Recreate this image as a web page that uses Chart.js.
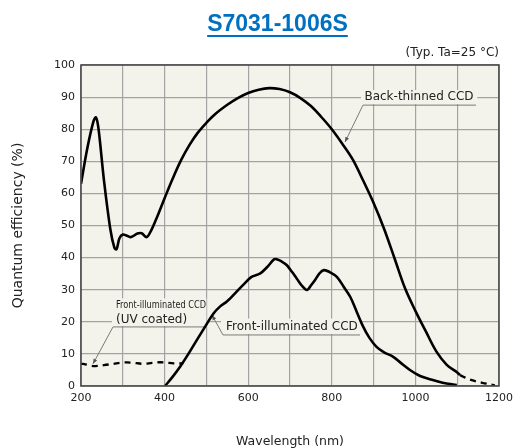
<!DOCTYPE html>
<html>
<head>
<meta charset="utf-8">
<script src="https://cdn.jsdelivr.net/npm/chart.js@4.4.1/dist/chart.umd.min.js"></script>
<style>
  html, body { margin: 0; padding: 0; background: #ffffff; }
  #wrap { position: relative; width: 516px; height: 448px; }
  #title {
    position: absolute; left: 0; top: 12px; width: 555px; text-align: center;
    font-family: "Liberation Sans", Arial, sans-serif; font-weight: bold; font-size: 23px;
    line-height: 23px; color: #0070C0; text-decoration: underline;
    text-decoration-thickness: 2px; text-underline-offset: 4px;
  }
  canvas { position: absolute; left: 0; top: 0; }
</style>
</head>
<body>
<div id="wrap">
  <canvas id="c" width="516" height="448"></canvas>
  <div id="title">S7031-1006S</div>
</div>
<script>
// ---- Data (wavelength nm, quantum efficiency %) ----
const btWavelengths = [200,215,230,236,242,255,270,280,285,292,300,310,320,335,345,357,368,380,400,420,440,460,480,500,520,550,575,600,625,650,675,700,725,750,775,800,825,850,875,900,925,950,975,1000,1025,1050,1075,1100,1107];
const btValues      = [63,74,82.5,83.7,80,64,49,43,42.6,46,47.2,46.8,46.4,47.5,47.6,46.4,48.5,52,58.5,64.8,70.5,75.2,79,82,84.6,87.6,89.7,91.3,92.3,92.8,92.5,91.5,89.7,87.2,83.8,80,75.5,70.6,64,57,49,39.8,30.5,23.4,17,10.8,6.6,4.2,3.4];

const btExtWavelengths = [1107,1130,1160,1190];
const btExtValues      = [3.4,2.0,1.0,0.2];

const fiWavelengths = [401,420,437,457,477,497,517,533,549,568,588,608,628,645,662,668,680,692,705,716,730,741,750,760,770,781,795,812,828,844,860,875,890,907,925,947,965,987,1010,1035,1065,1099];
const fiValues      = [0,3,6,10,14.3,18.5,22.6,24.8,26.3,28.8,31.5,34,35,37,39.5,39.5,38.8,37.7,35.5,33.5,31,29.9,31.3,33,35,36.1,35.5,34,31,27.8,23,18.5,15,12.2,10.5,9.1,7.2,5,3.2,2.1,1,0.3];

const uvWavelengths = [200,215,233,255,277,300,320,349,370,389,410,430,445];
const uvValues      = [7.0,6.6,6.2,6.5,6.9,7.3,7.3,6.9,7.2,7.4,7.2,7.0,7.1];

const xTickLabels = [200,400,600,800,1000,1200];
const yTickLabels = [0,10,20,30,40,50,60,70,80,90,100];

const toPoints = (xs, ys) => xs.map((x, i) => ({x: x, y: ys[i]}));

const PLOT_BG = '#f4f3eb';
const FONT = '"DejaVu Sans", Verdana, sans-serif';

const bgPlugin = {
  id: 'bg',
  beforeDraw(chart) {
    const a = chart.chartArea, ctx = chart.ctx;
    ctx.save();
    ctx.fillStyle = PLOT_BG;
    ctx.fillRect(a.left, a.top, a.right - a.left, a.bottom - a.top);
    ctx.restore();
  }
};

function arrowLine(ctx, x1, y1, x2, y2) {
  ctx.beginPath();
  ctx.moveTo(x1, y1);
  ctx.lineTo(x2, y2);
  ctx.stroke();
  const ang = Math.atan2(y2 - y1, x2 - x1);
  const L = 5, W = 2;
  ctx.beginPath();
  ctx.moveTo(x2, y2);
  ctx.lineTo(x2 - L * Math.cos(ang) + W * Math.sin(ang), y2 - L * Math.sin(ang) - W * Math.cos(ang));
  ctx.lineTo(x2 - L * Math.cos(ang) - W * Math.sin(ang), y2 - L * Math.sin(ang) + W * Math.cos(ang));
  ctx.closePath();
  ctx.fill();
}

const annotPlugin = {
  id: 'annot',
  beforeDatasetsDraw(chart) {
    const ctx = chart.ctx, xs = chart.scales.x, ys = chart.scales.y;
    const X = v => xs.getPixelForValue(v), Y = v => ys.getPixelForValue(v);
    ctx.save();
    ctx.textBaseline = 'middle';
    ctx.fillStyle = PLOT_BG;
    // text background boxes
    ctx.fillRect(X(870), Y(92.2), X(1148) - X(870), Y(87.8) - Y(92.2));
    ctx.fillRect(X(535), Y(21.0), X(870) - X(535), Y(16.2) - Y(21.0));
    ctx.fillRect(X(274), Y(27.3), X(500) - X(274), Y(18.7) - Y(27.3));

    // leaders and underlines
    ctx.strokeStyle = '#7a7a7a';
    ctx.fillStyle = '#555555';
    ctx.lineWidth = 1;
    ctx.beginPath();
    ctx.moveTo(X(874.6), Y(87.5)); ctx.lineTo(X(1145), Y(87.5));
    ctx.moveTo(X(539.7), Y(15.9)); ctx.lineTo(X(867.5), Y(15.9));
    ctx.moveTo(X(276.6), Y(18.4)); ctx.lineTo(X(496.7), Y(18.4));
    ctx.stroke();
    arrowLine(ctx, X(874.6), Y(87.5), X(831.6), Y(76.0));
    arrowLine(ctx, X(539.7), Y(15.9), X(513.4), Y(22.1));
    arrowLine(ctx, X(276.6), Y(18.4), X(228.7), Y(6.9));

    // texts
    ctx.fillStyle = '#222222';
    ctx.font = '12px ' + FONT;
    ctx.textAlign = 'center';
    ctx.fillText('Back-thinned CCD', X(1008.6), Y(90.0));
    ctx.textAlign = 'left';
    ctx.fillText('Front-illuminated CCD', X(546.9), Y(18.4));
    ctx.fillText('(UV coated)', X(283.7), Y(20.6));
    // small condensed label
    ctx.save();
    ctx.font = '11px ' + FONT;
    ctx.translate(X(283.7), Y(25.2));
    ctx.scale(0.745, 1);
    ctx.fillText('Front-illuminated CCD', 0, 0);
    ctx.restore();
    ctx.restore();
  },
  afterDraw(chart) {
    const ctx = chart.ctx, a = chart.chartArea;
    ctx.save();
    ctx.strokeStyle = '#4a4a4a';
    ctx.lineWidth = 1.6;
    ctx.strokeRect(a.left, a.top, a.right - a.left, a.bottom - a.top);
    ctx.fillStyle = '#222222';
    ctx.font = '12px ' + FONT;
    ctx.textAlign = 'right';
    ctx.textBaseline = 'middle';
    ctx.fillText('(Typ. Ta=25 °C)', a.right, 53);
    ctx.restore();
  }
};

const solid = { borderColor: '#000000', borderWidth: 2.6, pointRadius: 0, fill: false, tension: 0.35 };
const dashed = { borderColor: '#000000', borderWidth: 2.3, pointRadius: 0, fill: false, borderDash: [6, 5], tension: 0.35 };

new Chart(document.getElementById('c'), {
  type: 'line',
  data: {
    datasets: [
      Object.assign({ label: 'Back-thinned CCD', data: toPoints(btWavelengths, btValues) }, solid),
      Object.assign({ label: 'Back-thinned CCD (extrapolated)', data: toPoints(btExtWavelengths, btExtValues) }, dashed),
      Object.assign({ label: 'Front-illuminated CCD', data: toPoints(fiWavelengths, fiValues) }, solid),
      Object.assign({ label: 'Front-illuminated CCD (UV coated)', data: toPoints(uvWavelengths, uvValues) }, dashed)
    ]
  },
  options: {
    responsive: false,
    animation: false,
    layout: { padding: { top: 65, right: 17, left: 0, bottom: 0 } },
    plugins: { legend: { display: false }, tooltip: { enabled: false }, title: { display: false } },
    scales: {
      x: {
        type: 'linear', min: 200, max: 1200,
        afterFit(scale) { scale.height = 62; scale.paddingRight = 0; scale.paddingLeft = 0; },
        grid: { color: '#a3a3a3', lineWidth: 1.2, drawTicks: false },
        border: { display: false },
        ticks: {
          stepSize: 100, autoSkip: false, maxRotation: 0, padding: 6,
          color: '#222222', font: { family: FONT, size: 11 },
          callback: v => xTickLabels.includes(v) ? String(v) : ''
        },
        title: { display: true, text: 'Wavelength (nm)', color: '#222222',
                 font: { family: FONT, size: 12.5, lineHeight: 1 }, padding: { top: 2, bottom: 0 } }
      },
      y: {
        min: 0, max: 100,
        afterFit(scale) { scale.width = 81; },
        grid: { color: '#a3a3a3', lineWidth: 1.2, drawTicks: false },
        border: { display: false },
        ticks: {
          stepSize: 10, padding: 6, color: '#222222', font: { family: FONT, size: 11 },
          callback: v => yTickLabels.includes(v) ? String(v) : ''
        },
        title: { display: true, text: 'Quantum efficiency (%)', color: '#222222',
                 font: { family: FONT, size: 14, lineHeight: 1 }, padding: { top: 11, bottom: 0 } }
      }
    }
  },
  plugins: [bgPlugin, annotPlugin]
});
</script>
</body>
</html>
